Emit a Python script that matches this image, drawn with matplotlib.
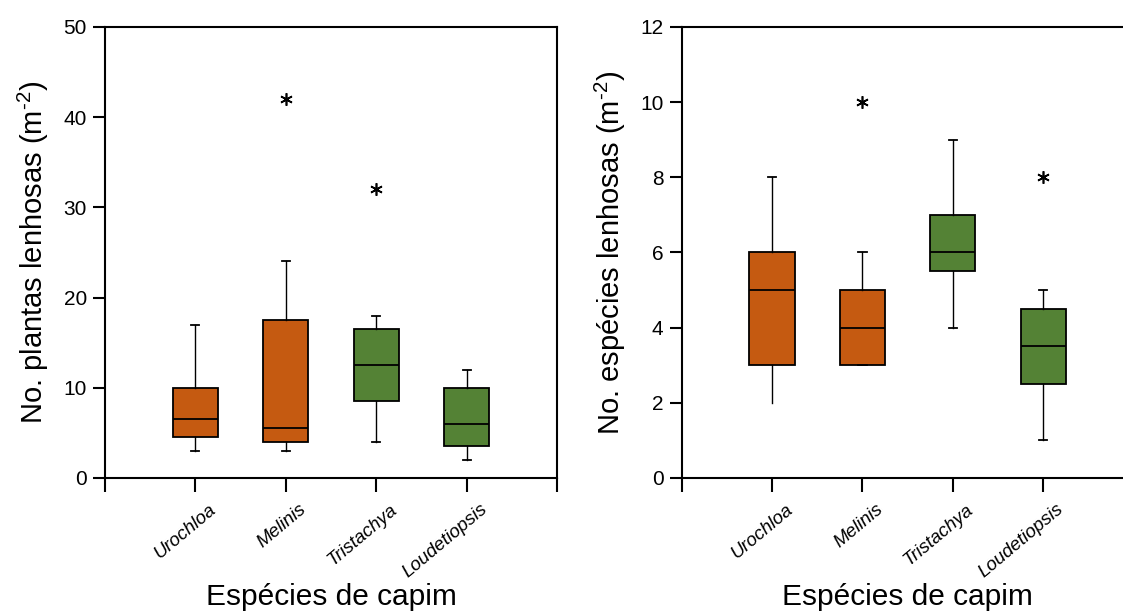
import matplotlib
matplotlib.use("Agg")
import matplotlib.pyplot as plt

plt.rcParams['font.family'] = ['Liberation Sans', 'DejaVu Sans']
plt.rcParams['mathtext.fontset'] = 'custom'
plt.rcParams['mathtext.rm'] = 'Liberation Sans'
plt.rcParams['mathtext.it'] = 'Liberation Sans:italic'

species = ['Urochloa', 'Melinis', 'Tristachya', 'Loudetiopsis']
box_colors = ['#C55A11', '#C55A11', '#548235', '#548235']

# plantas lenhosas (m-2): whislo, q1, med, q3, whishi, outliers
plantas_whislo = [3, 3, 4, 2]
plantas_q1 = [4.5, 4.0, 8.5, 3.5]
plantas_med = [6.5, 5.5, 12.5, 6.0]
plantas_q3 = [10, 17.5, 16.5, 10]
plantas_whishi = [17, 24, 18, 12]
plantas_fliers = [[], [42], [32], []]

# especies lenhosas (m-2)
especies_whislo = [2, 3, 4, 1]
especies_q1 = [3, 3, 5.5, 2.5]
especies_med = [5, 4, 6, 3.5]
especies_q3 = [6, 5, 7, 4.5]
especies_whishi = [8, 6, 9, 5]
especies_fliers = [[], [10], [], [8]]


def make_stats(lo, q1, med, q3, hi, fl):
    return [dict(whislo=a, q1=b, med=c, q3=d, whishi=e, fliers=f)
            for a, b, c, d, e, f in zip(lo, q1, med, q3, hi, fl)]


def draw_panel(ax, stats, ymax, ystep, ylabel):
    pos = [1, 2, 3, 4]
    bp = ax.bxp(stats, positions=pos, widths=0.5, patch_artist=True,
                showfliers=True,
                boxprops=dict(edgecolor='black', linewidth=1.3),
                medianprops=dict(color='black', linewidth=1.3),
                whiskerprops=dict(color='black', linewidth=1.0),
                capprops=dict(color='black', linewidth=1.3),
                flierprops=dict(marker=(6, 2, 0), markersize=9, markeredgecolor='black',
                                markeredgewidth=1.2, linestyle='none'))
    for patch, c in zip(bp['boxes'], box_colors):
        patch.set_facecolor(c)
    for cap in bp['caps']:
        x = cap.get_xdata()
        mid = (x[0] + x[1]) / 2
        cap.set_xdata([mid - 0.045, mid + 0.045])
    ax.set_xlim(0, 5)
    ax.set_ylim(0, ymax)
    ax.set_yticks(range(0, ymax + 1, ystep))
    ax.set_xticks(range(0, 6))
    ax.set_xticklabels([])
    # rotated category labels, shifted a little right of their ticks
    for p, name in zip(pos, species):
        ax.annotate(name, xy=(p, 0), xycoords=('data', 'axes fraction'),
                    xytext=(13, -23), textcoords='offset pixels',
                    rotation=40, ha='right', va='top', rotation_mode='anchor',
                    style='italic', fontsize=13.5)
    ax.tick_params(axis='x', length=10, width=1.5, direction='out')
    ax.tick_params(axis='y', length=9, width=1.5, direction='out', labelsize=15, pad=4)
    for s in ax.spines.values():
        s.set_linewidth(1.5)
    ax.set_ylabel(ylabel, fontsize=21, labelpad=9)
    ax.set_xlabel('Espécies de capim', fontsize=21.5, labelpad=62)
    return bp


fig = plt.figure(figsize=(11.23, 6.12), dpi=100)
ax1 = fig.add_axes([0.0935, 0.219, 0.4025, 0.737])
ax2 = fig.add_axes([0.607, 0.219, 0.4025, 0.737])

draw_panel(ax1, make_stats(plantas_whislo, plantas_q1, plantas_med, plantas_q3,
                           plantas_whishi, plantas_fliers),
           50, 10, 'No. plantas lenhosas (m$^{\u2010 2}$)')
bp2 = draw_panel(ax2, make_stats(especies_whislo, especies_q1, especies_med, especies_q3,
                                 especies_whishi, especies_fliers),
                 12, 2, 'No. espécies lenhosas (m$^{\u2010 2}$)')
bp2['caps'][0].set_visible(False)

fig.savefig('out.png', dpi=100)
